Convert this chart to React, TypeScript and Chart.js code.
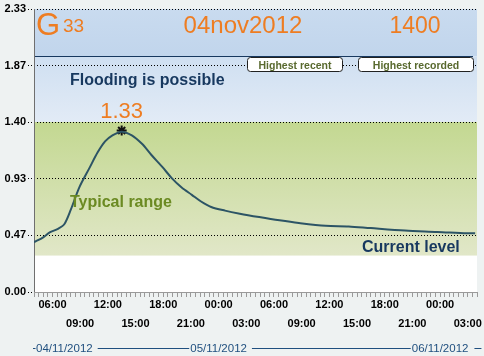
import React, { useEffect, useRef } from 'react';
import { Chart, registerables } from 'chart.js';

Chart.register(...registerables);

// Time axis: hours counted from 04/11/2012 04:00
const AXIS_MAX_HOURS = 48;

// River level series
const hours = [0, 1.0, 1.7, 2.6, 3.3, 4.0, 4.9, 6.0, 6.9, 7.7, 8.5, 9.5, 10.6, 11.7, 12.7, 13.9, 14.9, 16.0, 17.1, 18.1, 19.2, 20.7, 22.3, 24.4, 26.6, 28.7, 31.6, 34.1, 36.5, 40.2, 43.7, 46.9, 47.8];
const levels = [0.41, 0.45, 0.49, 0.52, 0.56, 0.68, 0.86, 1.02, 1.15, 1.24, 1.29, 1.32, 1.29, 1.22, 1.13, 1.03, 0.94, 0.86, 0.8, 0.745, 0.7, 0.67, 0.645, 0.617, 0.59, 0.568, 0.545, 0.54, 0.526, 0.506, 0.495, 0.483, 0.483];

const peakHour = [9.5];
const peakLevel = [1.33];
const peakLabel = '1.33';

const yTickValues = [0, 0.466, 0.932, 1.398, 1.864, 2.33];
const yTickLabels = ['0.00', '0.47', '0.93', '1.40', '1.87', '2.33'];

const xMajorHours = [2, 5, 8, 11, 14, 17, 20, 23, 26, 29, 32, 35, 38, 41, 44, 47];
const xMajorLabels = ['06:00', '09:00', '12:00', '15:00', '18:00', '21:00', '00:00', '03:00', '06:00', '09:00', '12:00', '15:00', '18:00', '21:00', '00:00', '03:00'];

const dateHours = [-4, 20, 44];
const dateLabels = ['04/11/2012', '05/11/2012', '06/11/2012'];

const floodLine = 1.94;
const typicalHigh = 1.4;
const typicalLow = 0.3;

const FONT = '"Liberation Sans", Arial, sans-serif';
const ORANGE = '#ee7d22';
const NAVY = '#17385f';
const OLIVE = '#6b8a22';

const bandsPlugin = {
  id: 'bands',
  beforeDraw(chart: any) {
    const { ctx, chartArea, scales } = chart;
    const y = scales.y;
    const { left, right, top, bottom } = chartArea;
    ctx.save();
    ctx.fillStyle = '#eef2f2';
    ctx.fillRect(0, 0, chart.width, chart.height);
    ctx.fillStyle = '#ffffff';
    ctx.fillRect(left, top, right - left, bottom - top);
    const yFlood = y.getPixelForValue(floodLine);
    const yHigh = y.getPixelForValue(typicalHigh);
    const yLow = y.getPixelForValue(typicalLow);
    let g = ctx.createLinearGradient(0, top, 0, yFlood);
    g.addColorStop(0, '#c9dbef');
    g.addColorStop(1, '#c1d5ec');
    ctx.fillStyle = g;
    ctx.fillRect(left, top, right - left, yFlood - top);
    g = ctx.createLinearGradient(0, yFlood, 0, yHigh);
    g.addColorStop(0, '#cfdff1');
    g.addColorStop(1, '#e2ebf6');
    ctx.fillStyle = g;
    ctx.fillRect(left, yFlood, right - left, yHigh - yFlood);
    g = ctx.createLinearGradient(0, yHigh, 0, yLow);
    g.addColorStop(0, '#c3d891');
    g.addColorStop(1, '#e1e7c8');
    ctx.fillStyle = g;
    ctx.fillRect(left, yHigh, right - left, yLow - yHigh);
    ctx.restore();
  },
  beforeDatasetsDraw(chart: any) {
    const { ctx, chartArea, scales } = chart;
    const yF = Math.round(scales.y.getPixelForValue(floodLine)) + 0.5;
    ctx.save();
    ctx.strokeStyle = NAVY;
    ctx.lineWidth = 1;
    ctx.beginPath();
    ctx.moveTo(chartArea.left, yF);
    ctx.lineTo(chartArea.right - 4, yF);
    ctx.stroke();
    // solid left axis line
    const ax = Math.floor(chartArea.left) + 0.5;
    ctx.strokeStyle = '#6f6f6f';
    ctx.beginPath();
    ctx.moveTo(ax, chartArea.top);
    ctx.lineTo(ax, chartArea.bottom);
    ctx.stroke();
    ctx.restore();
  },
};

function roundRect(ctx: CanvasRenderingContext2D, x: number, y: number, w: number, h: number, r: number) {
  ctx.beginPath();
  ctx.moveTo(x + r, y);
  ctx.lineTo(x + w - r, y);
  ctx.quadraticCurveTo(x + w, y, x + w, y + r);
  ctx.lineTo(x + w, y + h - r);
  ctx.quadraticCurveTo(x + w, y + h, x + w - r, y + h);
  ctx.lineTo(x + r, y + h);
  ctx.quadraticCurveTo(x, y + h, x, y + h - r);
  ctx.lineTo(x, y + r);
  ctx.quadraticCurveTo(x, y, x + r, y);
  ctx.closePath();
}

const textPlugin = {
  id: 'texts',
  afterDraw(chart: any) {
    const { ctx, chartArea, scales } = chart;
    const x = scales.x;
    const y = scales.y;
    ctx.save();
    ctx.textBaseline = 'alphabetic';
    // Title
    ctx.fillStyle = ORANGE;
    ctx.textAlign = 'left';
    ctx.font = `31px ${FONT}`;
    ctx.fillText('G', 36, 35);
    ctx.font = `19px ${FONT}`;
    ctx.fillText('33', 63, 32);
    ctx.textAlign = 'center';
    ctx.font = `24px ${FONT}`;
    ctx.fillText('04nov2012', 243, 33);
    ctx.font = `23px ${FONT}`;
    ctx.fillText('1400', 415, 33);

    // zone labels
    ctx.textAlign = 'left';
    ctx.font = `bold 16px ${FONT}`;
    ctx.fillStyle = NAVY;
    ctx.fillText('Flooding is possible', 70, 85);
    ctx.fillStyle = OLIVE;
    ctx.fillText('Typical range', 70, 207);
    ctx.fillStyle = NAVY;
    ctx.fillText('Current level', 362, 252);

    // peak label
    const px = x.getPixelForValue(peakHour[0]);
    const py = y.getPixelForValue(peakLevel[0]);
    ctx.textAlign = 'center';
    ctx.fillStyle = ORANGE;
    ctx.font = `22px ${FONT}`;
    ctx.fillText(peakLabel, px, py - 12);

    // boxes
    const yb = y.getPixelForValue(yTickValues[4]);
    const boxes = [
      { l: 247.5, r: 342.5, t: 'Highest recent' },
      { l: 358.5, r: 473.5, t: 'Highest recorded' },
    ];
    ctx.font = `bold 10.5px ${FONT}`;
    for (const b of boxes) {
      roundRect(ctx, b.l, Math.round(yb) - 8.5, b.r - b.l, 14, 3);
      ctx.fillStyle = '#ffffff';
      ctx.fill();
      ctx.strokeStyle = '#222';
      ctx.lineWidth = 1;
      ctx.stroke();
      ctx.fillStyle = '#58692e';
      ctx.textAlign = 'center';
      ctx.fillText(b.t, (b.l + b.r) / 2, Math.round(yb) + 3);
    }

    // date row
    const dy = 348.5;
    ctx.font = `11.5px ${FONT}`;
    ctx.fillStyle = '#1f4f7f';
    ctx.strokeStyle = '#1f4f7f';
    ctx.textBaseline = 'middle';
    ctx.textAlign = 'left';
    const spans: { s: number; e: number }[] = [];
    dateHours.forEach((h, i) => {
      const w = ctx.measureText(dateLabels[i]).width;
      let s = x.getPixelForValue(h) - w / 2;
      if (s < chartArea.left + 2) s = chartArea.left + 2;
      ctx.fillText(dateLabels[i], s, dy);
      spans.push({ s, e: s + w });
    });
    const ly = Math.floor(dy) + 0.5;
    ctx.lineWidth = 1;
    ctx.beginPath();
    ctx.moveTo(chartArea.left - 1, ly);
    ctx.lineTo(spans[0].s - 0.5, ly);
    for (let i = 0; i < spans.length - 1; i++) {
      ctx.moveTo(spans[i].e + 5, ly);
      ctx.lineTo(spans[i + 1].s - 1, ly);
    }
    const last = spans[spans.length - 1];
    ctx.moveTo(last.e + 6, ly);
    ctx.lineTo(last.e + 13, ly);
    ctx.stroke();
    ctx.restore();
  },
};

function xLabel(v: number): string[] | string {
  const i = xMajorHours.indexOf(v);
  if (i < 0) return '';
  return i % 2 === 0 ? [xMajorLabels[i], ''] : ['', xMajorLabels[i]];
}

export default function App() {
  const ref = useRef<HTMLCanvasElement | null>(null);
  useEffect(() => {
    document.body.style.margin = '0';
    document.body.style.background = '#eef2f2';
    const canvas = ref.current;
    if (!canvas) return;
    const chart = new Chart(canvas, {
      type: 'line',
      data: {
        datasets: [
          {
            data: hours.map((h, i) => ({ x: h, y: levels[i] })),
            borderColor: '#2c5465',
            borderWidth: 2,
            pointRadius: 0,
            tension: 0.3,
            fill: false,
          },
          {
            data: peakHour.map((h, i) => ({ x: h, y: peakLevel[i] })),
            showLine: false,
            pointStyle: 'star',
            pointRadius: 5,
            borderColor: '#111',
            backgroundColor: '#111',
            pointBorderWidth: 2,
          } as any,
        ],
      },
      options: {
        animation: false,
        responsive: false,
        layout: { padding: { top: 9, right: 4, left: 0, bottom: 0 } },
        plugins: { legend: { display: false }, tooltip: { enabled: false } },
        scales: {
          x: {
            type: 'linear',
            min: 0,
            max: AXIS_MAX_HOURS,
            afterBuildTicks: (s: any) => {
              const t = [];
              for (let h = 0; h <= AXIS_MAX_HOURS; h += 0.5) t.push({ value: h });
              s.ticks = t;
            },
            afterFit: (s: any) => {
              s.height = 64;
            },
            ticks: {
              autoSkip: false,
              maxRotation: 0,
              minRotation: 0,
              padding: -1,
              color: '#000',
              font: { family: FONT, size: 11, weight: 'bold', lineHeight: 1.68 },
              callback: (v: any) => xLabel(Number(v)),
            },
            grid: { drawOnChartArea: false, tickLength: 5, tickColor: '#9a9a9a', lineWidth: 1 },
            border: { color: '#9a9a9a', width: 1 },
          },
          y: {
            min: 0,
            max: 2.33,
            afterBuildTicks: (s: any) => {
              s.ticks = yTickValues.map((v) => ({ value: v }));
            },
            afterFit: (s: any) => {
              s.width = 34;
            },
            ticks: {
              padding: 2,
              color: '#000',
              font: { family: FONT, size: 11, weight: 'bold' },
              callback: (_v: any, i: number) => yTickLabels[i],
            },
            grid: {
              color: (c: any) => (c.tick && c.tick.value === 0 ? 'rgba(0,0,0,0)' : '#000'),
              lineWidth: 1,
              tickLength: 6,
              tickColor: '#000',
              tickBorderDash: [1, 2],
            },
            border: { display: false, dash: [1, 2] },
          },
        },
      },
      plugins: [bandsPlugin, textPlugin],
    } as any);
    return () => chart.destroy();
  }, []);
  return (
    <div style={{ width: 484, height: 356 }}>
      <canvas ref={ref} width={484} height={356} style={{ display: 'block' }} />
    </div>
  );
}
